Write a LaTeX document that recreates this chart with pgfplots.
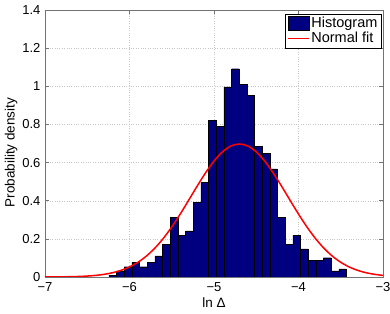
\documentclass[border=0pt]{standalone}
\usepackage{fontspec}
\setmainfont{Liberation Sans}
\usepackage{pgfplots}
\pgfplotsset{compat=1.18}
\definecolor{mnavy}{rgb}{0,0,0.5}
\definecolor{axgray}{gray}{0.45}
\begin{document}
\begin{tikzpicture}
\begin{axis}[
  scale only axis, width=338bp, height=267bp,
  xmin=-7, xmax=-3, ymin=0, ymax=1.4,
  xtick={-7,-6,-5,-4,-3}, xticklabels={−7,−6,−5,−4,−3},
  ytick={0,0.2,0.4,0.6,0.8,1,1.2,1.4},
  yticklabels={0,0.2,0.4,0.6,0.8,1,1.2,1.4},
  tick align=inside, major tick length=4bp,
  axis line style={axgray, line width=0.6bp},
  every tick/.style={axgray, line width=0.5bp},
  grid=major, grid style={dotted, gray!45, line width=0.4bp},
  tick label style={font=\fontsize{13bp}{15bp}\selectfont, black},
  xticklabel style={yshift=-2bp},
  yticklabel style={xshift=-1bp},
  label style={font=\fontsize{13.5bp}{15bp}\selectfont},
  xlabel={ln Δ}, ylabel={Probability density},
  xlabel style={at={(axis description cs:0.5,-0.115)}, anchor=base},
  ylabel style={at={(axis description cs:-0.1,0.466)}, anchor=center, rotate=0},
  legend style={at={(rel axis cs:0.996,0.986)}, anchor=north east, draw=black, fill=white,
    font=\fontsize{14.5bp}{16bp}\selectfont, inner xsep=2bp, inner ysep=1.5bp,
    row sep=-1bp, line width=0.5bp},
  legend cell align=left,
]
\addplot[ybar interval, fill=mnavy, draw=black, line width=0.4bp,
  legend image code/.code={\draw[fill=mnavy, draw=black, line width=0.4bp] (0bp,-7bp) rectangle (21bp,7bp);}]
coordinates {
(-6.2430,0.010) (-6.1524,0.032) (-6.0617,0.054) (-5.9711,0.078)
(-5.8804,0.054) (-5.7898,0.078) (-5.6991,0.111) (-5.6085,0.171)
(-5.5178,0.311) (-5.4272,0.217) (-5.3365,0.242) (-5.2459,0.393)
(-5.1552,0.496) (-5.0646,0.822) (-4.9739,0.789) (-4.8833,0.997)
(-4.7926,1.092) (-4.7020,1.009) (-4.6113,0.952) (-4.5207,0.685)
(-4.4300,0.648) (-4.3394,0.567) (-4.2487,0.311) (-4.1581,0.171)
(-4.0674,0.218) (-3.9768,0.148) (-3.8861,0.089) (-3.7955,0.089)
(-3.7048,0.101) (-3.6142,0.032) (-3.5235,0.042) (-3.4329,0.042)
};
\addlegendentry{Histogram}
\addplot[red, line width=1.5bp, smooth,
  legend image code/.code={\draw[red, line width=1.2bp] (0bp,0bp) -- (21bp,0bp);}]
coordinates {
(-7.0,0.0002) (-6.9,0.0004) (-6.8,0.0008) (-6.7,0.0015) (-6.6,0.0028)
(-6.5,0.0049) (-6.4,0.0084) (-6.3,0.0140) (-6.2,0.0224) (-6.1,0.0349)
(-6.0,0.0527) (-5.9,0.0772) (-5.8,0.1098) (-5.7,0.1513) (-5.6,0.2023)
(-5.5,0.2623) (-5.4,0.3298) (-5.3,0.4024) (-5.2,0.4760) (-5.1,0.5462)
(-5.0,0.6079) (-4.9,0.6561) (-4.8,0.6869) (-4.7,0.6975) (-4.6,0.6869)
(-4.5,0.6561) (-4.4,0.6079) (-4.3,0.5462) (-4.2,0.4760) (-4.1,0.4024)
(-4.0,0.3298) (-3.9,0.2623) (-3.8,0.2023) (-3.7,0.1513) (-3.6,0.1098)
(-3.5,0.0772) (-3.4,0.0527) (-3.3,0.0349) (-3.2,0.0224) (-3.1,0.0140)
(-3.0,0.0084)
};
\addlegendentry{Normal fit}
\end{axis}
\pgfresetboundingbox
\path ([shift={(-45bp,-37bp)}]current axis.south west) rectangle ([shift={(7bp,10bp)}]current axis.north east);
\end{tikzpicture}
\end{document}
